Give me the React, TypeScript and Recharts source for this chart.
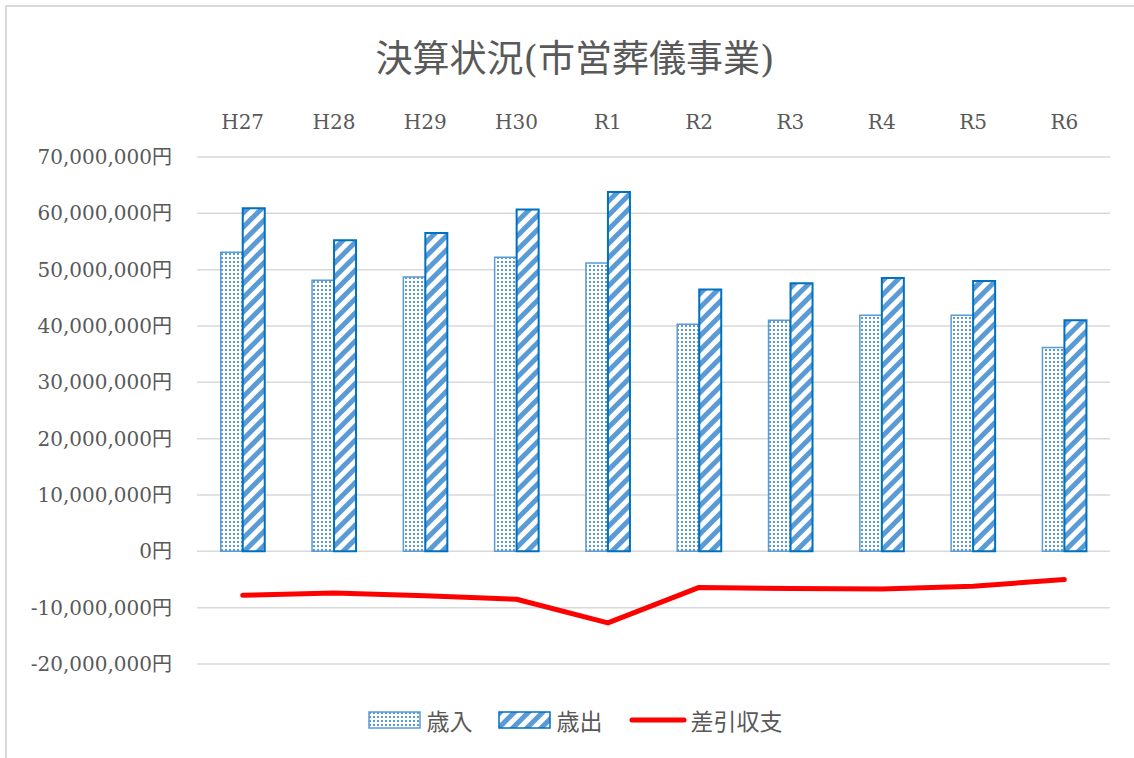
import { ComposedChart, Bar, Line, XAxis, YAxis, CartesianGrid, Legend } from "recharts"

const years = ["H27", "H28", "H29", "H30", "R1", "R2", "R3", "R4", "R5", "R6"]
const revenue = [53100000, 48100000, 48700000, 52200000, 51200000, 40300000, 41000000, 41900000, 41900000, 36200000]
const expense = [60900000, 55200000, 56500000, 60700000, 63800000, 46500000, 47600000, 48500000, 48000000, 41000000]
const balance = [-7800000, -7400000, -7900000, -8500000, -12700000, -6400000, -6600000, -6700000, -6200000, -5000000]
const yTicks = [-20000000, -10000000, 0, 10000000, 20000000, 30000000, 40000000, 50000000, 60000000, 70000000]

const font = '"DejaVu Serif", "Liberation Serif", "Noto Sans CJK JP", serif'
const textColor = "#595959"

const data = years.map((y, i) => ({
    name: y,
    歳入: revenue[i],
    歳出: expense[i],
    差引収支: balance[i],
}))

const formatYen = (v: number) => `${v.toLocaleString("en-US")}円`

function LegendBox() {
    return (
        <div style={{ display: "flex", justifyContent: "center", alignItems: "center", fontFamily: font, fontSize: 23, color: textColor, height: 30 }}>
            <svg width={53} height={18} style={{ marginRight: 6 }}>
                <rect x={1} y={1} width={51} height={16} fill="url(#dotPat)" stroke="#5B9BD5" strokeWidth={1.5} />
            </svg>
            <span style={{ marginRight: 25 }}>歳入</span>
            <svg width={53} height={18} style={{ marginRight: 6 }}>
                <rect x={1} y={1} width={51} height={16} fill="url(#stripePat)" stroke="#0070C0" strokeWidth={1.5} />
            </svg>
            <span style={{ marginRight: 26 }}>歳出</span>
            <svg width={58} height={16} style={{ marginRight: 4 }}>
                <line x1={3} y1={8} x2={55} y2={8} stroke="#FF0000" strokeWidth={5} strokeLinecap="round" />
            </svg>
            <span>差引収支</span>
        </div>
    )
}

export default function App() {
    return (
        <div style={{ position: "absolute", left: 0, top: 0, width: 1134, height: 758, background: "#fff" }}>
            <svg width={0} height={0} style={{ position: "absolute" }}>
                <defs>
                    <pattern id="dotPat" width={4} height={4} patternUnits="userSpaceOnUse">
                        <rect width={4} height={4} fill="#ffffff" />
                        <rect x={1} y={1} width={2} height={2} fill="#5B9BD5" />
                    </pattern>
                    <pattern id="stripePat" width={10} height={10} patternUnits="userSpaceOnUse" patternTransform="rotate(45)">
                        <rect width={10} height={10} fill="#ffffff" />
                        <rect width={5} height={10} fill="#5B9BD5" />
                    </pattern>
                </defs>
            </svg>
            <div style={{ position: "absolute", left: 5, top: 5, right: 0, bottom: 0, borderTop: "2px solid #d9d9d9", borderLeft: "2px solid #d9d9d9" }} />
            <div style={{ position: "absolute", left: 0, top: 29, width: 1150, textAlign: "center", fontFamily: font, fontSize: 37, color: textColor }}>
                決算状況(市営葬儀事業)
            </div>
            <div style={{ position: "absolute", left: 0, top: 0 }}>
                <ComposedChart
                    width={1134}
                    height={758}
                    data={data}
                    margin={{ top: 117, right: 24, left: 0, bottom: 64 }}
                    barCategoryGap="26%"
                    barGap={0}
                >
                    <CartesianGrid vertical={false} stroke="#d9d9d9" strokeWidth={1.5} />
                    <XAxis
                        dataKey="name"
                        orientation="top"
                        height={40}
                        axisLine={false}
                        tickLine={false}
                        tickMargin={22}
                        tick={{ fontFamily: font, fontSize: 20, fill: textColor }}
                        interval={0}
                    />
                    <YAxis
                        width={197}
                        domain={[-20000000, 70000000]}
                        ticks={yTicks}
                        axisLine={false}
                        tickLine={false}
                        tickMargin={19}
                        tickFormatter={formatYen}
                        tick={{ fontFamily: font, fontSize: 20, fill: textColor }}
                        interval={0}
                    />
                    <Bar dataKey="歳入" fill="url(#dotPat)" stroke="#5B9BD5" strokeWidth={1.5} isAnimationActive={false} />
                    <Bar dataKey="歳出" fill="url(#stripePat)" stroke="#0070C0" strokeWidth={2} isAnimationActive={false} />
                    <Line
                        dataKey="差引収支"
                        type="linear"
                        stroke="#FF0000"
                        strokeWidth={5}
                        strokeLinecap="round"
                        strokeLinejoin="round"
                        dot={false}
                        activeDot={false}
                        isAnimationActive={false}
                    />
                    <Legend content={() => <LegendBox />} wrapperStyle={{ top: 705, left: 8, width: 1134 }} />
                </ComposedChart>
            </div>
        </div>
    )
}
